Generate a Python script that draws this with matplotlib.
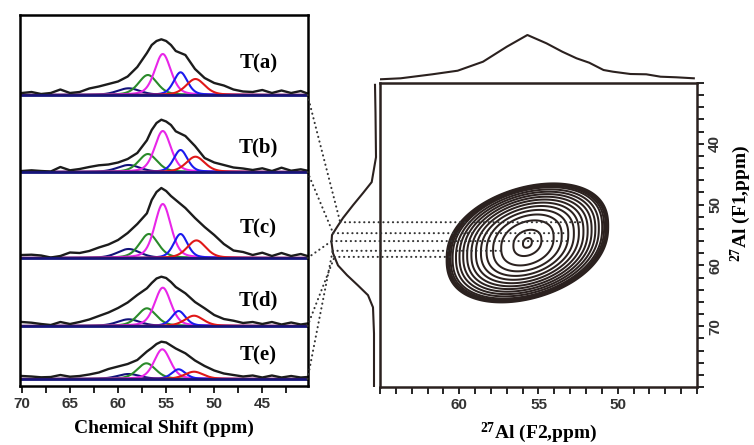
import numpy as np
import matplotlib.pyplot as plt
from matplotlib.patches import ConnectionPatch
from matplotlib.ticker import MultipleLocator

plt.rcParams['mathtext.fontset'] = 'custom'
plt.rcParams['mathtext.rm'] = 'Liberation Serif:bold'
plt.rcParams['mathtext.it'] = 'Liberation Serif:bold'
plt.rcParams['mathtext.bf'] = 'Liberation Serif:bold'

# ---- 1D 27Al spectra, left panel (intensity in arbitrary units) ----
samples = ['T(a)', 'T(b)', 'T(c)', 'T(d)', 'T(e)']
shift = [70, 69, 68, 67, 66, 65, 64, 63, 62, 61, 60, 59, 58, 57, 56.5, 56,
         55.5, 55, 54.5, 54, 53, 52, 51, 50, 49, 48, 47, 46, 45, 44, 43, 42, 41, 40.3]
spec_a = [2, 3, 1, 2, 5.5, 2, 3, 6.5, 8.5, 11, 13.5, 18.5, 28, 42, 50, 54,
          55.7, 54, 50, 44, 40, 26, 17, 12, 9.5, 5.5, 3.5, 3, 5, 2, 4.5, 2, 4, 1.5]
spec_b = [1, 1.7, 1, 0.5, 5, 1.7, 3, 5, 6.7, 7.5, 9.5, 13, 19, 31.7, 42, 49,
          52.3, 50.5, 47, 40.7, 36, 26, 14, 9.5, 7, 4.5, 3.5, 2, 3.7, 1, 4.3, 1.3, 2.7, 1.3]
spec_c = [3, 3.3, 2.5, 0.5, 2, 5.5, 5, 7, 10.5, 13.5, 18, 25, 34, 44.7, 58, 66,
          70, 67, 62, 58, 50, 40, 31, 23, 14, 7.5, 6, 3, 5.3, 2, 5, 2, 4, 2]
spec_d = [4, 3.3, 2, 1, 4, 2, 4, 6.5, 10, 13.5, 18, 23.5, 31, 37.7, 43, 47.5,
          49.3, 48, 44, 39, 32.7, 24, 17.7, 11, 7, 5.3, 3, 4, 2, 4, 1.5, 3.5, 1.5, 2.5]
spec_e = [3, 2.5, 1.7, 2, 4, 2.3, 3, 4.5, 6.5, 10, 12.5, 15, 19, 27.5, 31, 35,
          37.3, 36.5, 33.5, 30.5, 25.7, 18.5, 13, 8.5, 5.5, 4, 2.5, 3.5, 1.5, 3.5, 1.5, 3, 1.5, 2]
spectra = [spec_a, spec_b, spec_c, spec_d, spec_e]

# fitted components: positions (ppm) and heights per sample
comp_center = [[58.9, 56.9, 55.35, 53.5, 51.95],
               [58.9, 56.9, 55.35, 53.5, 51.95],
               [58.9, 56.8, 55.35, 53.5, 51.85],
               [58.9, 57.0, 55.35, 53.7, 52.1],
               [58.9, 57.05, 55.4, 53.7, 52.1]]
comp_height = [[6.7, 20, 41, 22.7, 16],
               [7, 18, 41, 22, 15.3],
               [9, 24, 54, 24, 17.6],
               [6.7, 17.7, 38.3, 15, 10.3],
               [5, 15.7, 29.7, 9.7, 7.3]]
comp_fwhm = [2.8, 2.3, 2.0, 1.7, 2.3]
comp_colors = ['#12127a', '#2a8a2a', '#e826e8', '#1a1aee', '#e01818']

# ---- 2D spectrum ----
# projections
top_f2 = [65, 63.7, 61.7, 60.1, 58.5, 57.0, 55.7, 54.5, 53.5, 52.6, 51.8, 50.9,
          50.3, 49.2, 48.2, 47.3, 46.3, 45.2]
top_int = [0.2, 1.2, 5.2, 8.8, 17.8, 32.8, 44.5, 36.2, 27.8, 21.2, 16.8, 9.5,
           7.8, 5.5, 5.2, 2.8, 2.2, 1.2]
side_f1 = [30.3, 34.9, 42.2, 46.3, 48.1, 50.1, 52.2, 53.7, 55.0, 56.2, 58.0, 60.0,
           61.6, 63.3, 64.9, 66.9, 71.2, 80]
side_int = [1, 0.5, 0, 4.3, 13, 23, 33, 39, 44, 44.5, 43, 38, 29, 18, 8, 3, 2, 2]

# 2D peak: centre (F2, F1), widths (ppm), shear and F1 shape exponent
peak_f2, peak_f1 = 55.7, 56.3
peak_w2, peak_w1 = 1.72, 3.7
peak_shear = 0.25
peak_exp = 2.35

# links from each 1D spectrum into the 2D map
link_f1 = [52.9, 54.7, 56.0, 58.6, 57.6]
link_f2_end = [52.2, 53.2, 53.2, 60.5, 57.2]

# ---------------- layout ----------------
W, H = 754, 445
fig = plt.figure(figsize=(W / 100, H / 100), dpi=100)


def box(x0, y0, x1, y1):
    return [x0 / W, 1 - y1 / H, (x1 - x0) / W, (y1 - y0) / H]


tick_font = dict(family='Liberation Sans', weight='bold', size=11)
label_font = dict(family='Liberation Serif', weight='bold', size=14)
ink = '#2b211f'

# left panel
ax1 = fig.add_axes(box(19.5, 15, 307.5, 386))
offsets = [291, 214, 128, 60, 7]
label_y = [323, 239, 158, 86, 31]
x = np.linspace(70, 40.3, 800)
eta = 0.35
for i, name in enumerate(samples):
    off = offsets[i]
    for c, h, w, col in zip(comp_center[i], comp_height[i], comp_fwhm, comp_colors):
        t = (x - c) / (w / 2)
        shape = eta / (1 + t ** 2) + (1 - eta) * np.exp(-np.log(2) * t ** 2)
        ax1.plot(x, off + h * shape, color=col, lw=1.5)
    ax1.plot(shift, off + np.array(spectra[i]), color='#1c1c1c', lw=1.7)
    ax1.plot([70, 40.3], [off, off], color='#15157a', lw=2)
    ax1.text(45.4, label_y[i], name, ha='center', va='center',
             family='Liberation Serif', weight='bold', size=15)

ax1.set_xlim(70.25, 40.3)
ax1.set_ylim(0, 371)
ax1.xaxis.set_minor_locator(MultipleLocator(2.5))
ax1.set_xticks([70, 65, 60, 55, 50, 45])
ax1.tick_params(axis='x', which='both', direction='out', length=5, width=1.2,
                labelcolor='#333333', pad=3)
ax1.tick_params(axis='y', left=False, labelleft=False)
for lbl in ax1.get_xticklabels():
    lbl.set(**tick_font)
for s in ax1.spines.values():
    s.set_linewidth(1.8)
ax1.set_xlabel('Chemical Shift (ppm)', labelpad=6, **label_font)

# 2D contour panel
ax2 = fig.add_axes(box(380, 83, 697, 387))
f2 = np.linspace(65, 45, 601)
f1 = np.linspace(30, 80, 601)
X, Y = np.meshgrid(f2, f1)
u = (X - peak_f2) / peak_w2
v = (Y - peak_f1) / peak_w1 - peak_shear * u
Z = np.exp(-(u ** 2 + np.abs(v) ** peak_exp) / 2)
steps = np.concatenate([[0.04], np.arange(0.4, 11.5, 1.0), [12.0, 12.5, 12.9, 13.3]])
levels = np.sort(np.exp(-0.33 * steps))
ax2.contour(f2, f1, Z, levels=levels, colors=ink, linewidths=1.45)
ax2.set_xlim(65, 45)
ax2.set_ylim(80, 30)
ax2.xaxis.set_minor_locator(MultipleLocator(1))
ax2.yaxis.set_minor_locator(MultipleLocator(2))
ax2.set_xticks([60, 55, 50])
ax2.set_yticks([40, 50, 60, 70])
ax2.tick_params(axis='x', which='both', direction='out', length=5, width=1.2,
                labelcolor='#333333', pad=3)
ax2.tick_params(axis='y', which='both', direction='out', length=5, width=1.2,
                left=False, labelleft=False, right=True, labelright=True,
                labelcolor='#333333', labelrotation=90, pad=3)
for lbl in ax2.get_xticklabels() + ax2.get_yticklabels():
    lbl.set(**tick_font)
for lbl in ax2.get_yticklabels():
    lbl.set_va('center')
for s in ax2.spines.values():
    s.set_linewidth(1.8)
    s.set_color(ink)
ax2.set_xlabel('$^{27}$Al (F2,ppm)', labelpad=6, **label_font)
fig.text(741 / W, 1 - 203 / H, '$^{27}$Al (F1,ppm)', rotation=90,
         ha='center', va='center', **label_font)

# projections
ax_top = fig.add_axes(box(380, 30, 697, 82), sharex=ax2)
ax_top.plot(top_f2, top_int, color=ink, lw=1.5)
ax_top.set_ylim(-2.5, 49.5)
ax_top.axis('off')

ax_side = fig.add_axes(box(320, 83, 378, 387), sharey=ax2)
ax_side.plot(side_int, side_f1, color=ink, lw=1.5)
ax_side.set_xlim(56, -2)
ax_side.axis('off')

# dotted links
dots = dict(color='#333333', lw=1.5, linestyle=(0, (0.1, 2.2)), capstyle='round')
for i in range(len(samples)):
    p = np.interp(link_f1[i], side_f1, side_int)
    fig.add_artist(ConnectionPatch((40.3, offsets[i]), (p, link_f1[i]),
                                   coordsA=ax1.transData, coordsB=ax_side.transData, **dots))
    fig.add_artist(ConnectionPatch((p, link_f1[i]), (link_f2_end[i], link_f1[i]),
                                   coordsA=ax_side.transData, coordsB=ax2.transData, **dots))

fig.savefig('out.png', dpi=100)
